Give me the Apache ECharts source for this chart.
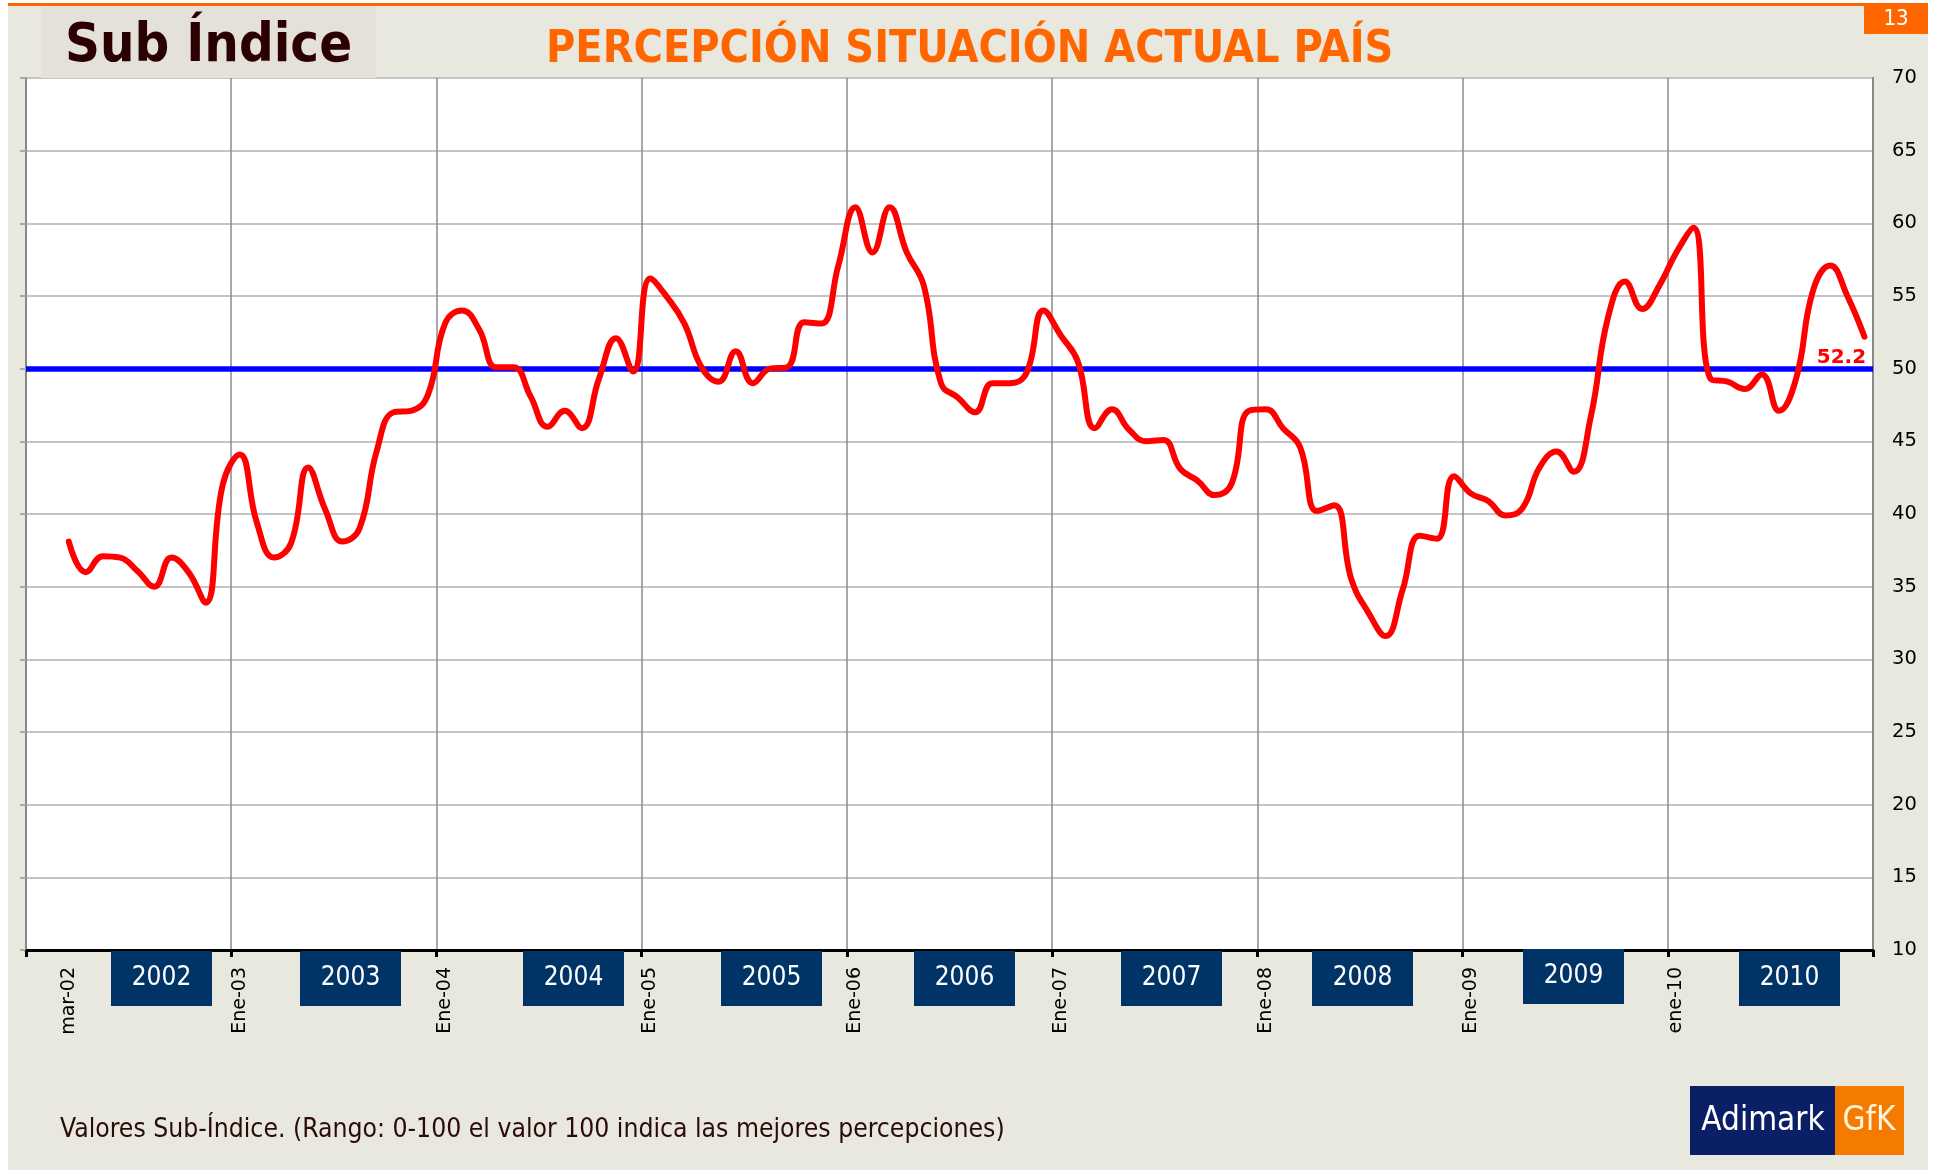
<!DOCTYPE html>
<html><head><meta charset="utf-8">
<script src="https://cdn.jsdelivr.net/npm/echarts@6/dist/echarts.min.js"></script>
<style>html,body{margin:0;padding:0;background:#fff;}#c{width:1933px;height:1170px;}</style>
</head><body><div id="c"></div>
<script>
// ---- data ----
const years = [2002, 2003, 2004, 2005, 2006, 2007, 2008, 2009, 2010];
const monthNames = ['ene','feb','mar','abr','may','jun','jul','ago','sep','oct','nov','dic'];
const tickLabelIndex = [2, 12, 24, 36, 48, 60, 72, 84, 96];
const tickLabelText = ['mar-02','Ene-03','Ene-04','Ene-05','Ene-06','Ene-07','Ene-08','Ene-09','ene-10'];
const yearLabels = ['2002','2003','2004','2005','2006','2007','2008','2009','2010'];
const v2002 = [null, null, 38.1, 36.0, 37.1, 37.0, 36.1, 35.0, 37.0, 36.0, 33.9, 42.0];
const v2003 = [44.1, 39.4, 37.0, 38.0, 43.2, 40.3, 38.1, 39.0, 44.3, 47.0, 47.1, 48.2];
const v2004 = [53.1, 54.0, 52.7, 50.1, 50.1, 48.1, 46.0, 47.1, 45.9, 49.3, 52.1, 49.8];
const v2005 = [56.2, 54.9, 53.1, 50.1, 49.1, 51.2, 49.0, 50.0, 50.1, 53.2, 53.1, 57.1];
const v2006 = [61.1, 58.0, 61.1, 58.0, 55.7, 49.0, 48.0, 47.0, 49.0, 49.0, 49.7, 54.0];
const v2007 = [52.3, 50.5, 45.9, 47.2, 45.8, 45.0, 45.1, 43.1, 42.3, 41.3, 42.1, 47.1];
const v2008 = [47.2, 45.9, 44.6, 40.2, 40.6, 35.5, 33.2, 31.6, 34.8, 38.5, 38.3, 42.6];
const v2009 = [41.4, 40.9, 39.9, 40.4, 43.2, 44.3, 42.9, 46.7, 53.5, 56.0, 54.1, 55.7];
const v2010 = [58.0, 59.7, 49.3, 49.1, 48.6, 49.6, 47.1, 49.3, 55.4, 57.1, 55.0, 52.2];
const referenceLevel = 50;
const yTicks = {min: 10, max: 70, step: 5};

// ---- build ----
const categories = [];
years.forEach(y => monthNames.forEach(m => categories.push(m + '-' + String(y).slice(2))));
const subIndice = [].concat(v2002, v2003, v2004, v2005, v2006, v2007, v2008, v2009, v2010);
const lastIdx = subIndice.length - 1;
const lastVal = subIndice[lastIdx];

const COND = "'DejaVu Sans Condensed','Liberation Sans Narrow','DejaVu Sans',sans-serif";
const VERD = "'DejaVu Sans',Verdana,sans-serif";

const yearBoxLeft = [111, 300, 523, 721, 914, 1121, 1312, 1523, 1739];
const yearBoxTop = [951, 951, 951, 951, 951, 951, 951, 949, 951];
const graphics = [
  {type:'rect', shape:{x:0,y:0,width:8,height:1170}, style:{fill:'#fff'}, z:100},
  {type:'rect', shape:{x:1928,y:0,width:5,height:1170}, style:{fill:'#fff'}, z:100},
  {type:'rect', shape:{x:0,y:0,width:1933,height:3}, style:{fill:'#fff'}, z:100},
  {type:'rect', shape:{x:8,y:3,width:1920,height:3}, style:{fill:'#FF6600'}, z:100},
  {type:'rect', shape:{x:1864,y:3,width:64,height:31}, style:{fill:'#FF6600'}, z:100},
  {type:'text', x:1896, y:19, style:{text:'13', fill:'#fff', font:"22px " + COND, textAlign:'center', textVerticalAlign:'middle'}, z:101},
  {type:'rect', shape:{x:41,y:6,width:335,height:72}, style:{fill:'#E3E1DA'}, z:1},
  {type:'text', x:65, y:47, style:{text:'Sub Índice', fill:'#2B0000', font:"bold 54px " + COND, textAlign:'left', textVerticalAlign:'middle'}, z:2},
  {type:'text', x:546, y:50, style:{text:'PERCEPCIÓN SITUACIÓN ACTUAL PAÍS', fill:'#FF6600', font:"bold 44.5px " + COND, textAlign:'left', textVerticalAlign:'middle'}, z:2},
  {type:'text', x:60, y:1130, style:{text:'Valores Sub-Índice. (Rango: 0-100 el valor 100 indica las mejores percepciones)', fill:'#2B0A0A', font:"26.3px " + COND, textAlign:'left', textVerticalAlign:'middle'}, z:2},
  {type:'rect', shape:{x:1690,y:1086,width:145,height:69}, style:{fill:'#0B1F66'}, z:2},
  {type:'rect', shape:{x:1835,y:1086,width:69,height:69}, style:{fill:'#F47B00'}, z:2},
  {type:'text', x:1763, y:1121, style:{text:'Adimark', fill:'#fff', font:"33px " + COND, textAlign:'center', textVerticalAlign:'middle'}, z:3},
  {type:'text', x:1869, y:1121, style:{text:'GfK', fill:'#FFF4DC', font:"33px " + COND, textAlign:'center', textVerticalAlign:'middle'}, z:3}
];
yearLabels.forEach((t, k) => {
  graphics.push({type:'rect', shape:{x:yearBoxLeft[k], y:yearBoxTop[k], width:101, height:55}, style:{fill:'#003366'}, z:1});
  graphics.push({type:'text', x:yearBoxLeft[k] + 50.5, y:yearBoxTop[k] + 27, style:{text:t, fill:'#fff', font:"26px " + COND, textAlign:'center', textVerticalAlign:'middle'}, z:2});
});

const chart = echarts.init(document.getElementById('c'), null, {renderer:'canvas'});
chart.setOption({
  animation: false,
  backgroundColor: '#E8E8DE',
  grid: {left: 26, right: 60, top: 78, bottom: 220, show: true, backgroundColor: '#fff', borderColor: '#888', borderWidth: 2},
  xAxis: {
    type: 'category', data: categories, boundaryGap: true,
    axisLine: {lineStyle: {color: '#000', width: 3}},
    axisTick: {show: true, interval: (i) => i % 12 === 0, length: 7, lineStyle: {color: '#000', width: 3}},
    splitLine: {show: true, interval: (i) => i % 12 === 0, lineStyle: {color: '#8a8a8a', width: 1.5}},
    axisLabel: {
      interval: (i) => tickLabelIndex.indexOf(i) >= 0,
      formatter: (v, i) => { const k = tickLabelIndex.indexOf(i); return k >= 0 ? tickLabelText[k] : ''; },
      rotate: 90, margin: 17, fontFamily: VERD, fontSize: 19, color: '#000'
    }
  },
  yAxis: [
    {type: 'value', min: yTicks.min, max: yTicks.max, interval: yTicks.step, position: 'left',
     axisLine: {show: true, lineStyle: {color: '#888', width: 2}},
     axisTick: {show: true, length: 6, lineStyle: {color: '#aaa', width: 2}},
     axisLabel: {show: false},
     splitLine: {show: true, lineStyle: {color: '#c4c4c4', width: 2}}},
    {type: 'value', min: yTicks.min, max: yTicks.max, interval: yTicks.step, position: 'right',
     axisLine: {show: true, lineStyle: {color: '#888', width: 2}},
     axisTick: {show: false},
     axisLabel: {margin: 19, fontFamily: VERD, fontSize: 19.5, color: '#000'},
     splitLine: {show: false}}
  ],
  series: [
    {type: 'line', name: 'ref', data: [], yAxisIndex: 0, z: 3,
     markLine: {silent: true, symbol: 'none', z: 3, label: {show: false},
       lineStyle: {color: '#0000FF', width: 5.5, type: 'solid'},
       data: [{yAxis: referenceLevel}]}},
    {type: 'line', name: 'Sub Índice', data: subIndice, yAxisIndex: 0, z: 10,
     smooth: 0.45, showSymbol: false, connectNulls: false,
     lineStyle: {color: '#FF0000', width: 6, cap: 'round', join: 'round'},
     markPoint: {z: 12, symbol: 'circle', symbolSize: 1, itemStyle: {color: 'rgba(0,0,0,0)'},
       label: {show: true, position: 'inside', offset: [-23, 21], formatter: String(lastVal),
         color: '#FF0000', fontWeight: 'bold', fontSize: 20, fontFamily: VERD},
       data: [{coord: [lastIdx, lastVal], value: lastVal}]}}
  ],
  graphic: graphics
});
</script></body></html>
